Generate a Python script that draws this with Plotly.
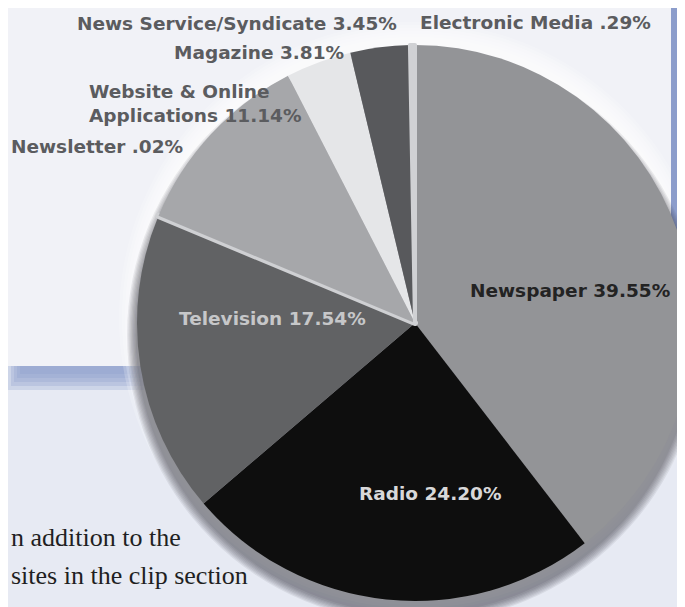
import plotly.graph_objects as go

W, H = 685, 607
OFF = 8  # the page's default body margin shifts the figure by this many pixels

# ---------------- data ----------------
categories = ["Newspaper", "Radio", "Television", "Newsletter",
              "Website & Online Applications", "Magazine",
              "News Service/Syndicate", "Electronic Media"]
shares = [39.55, 24.20, 17.54, 0.02, 11.14, 3.81, 3.45, 0.29]
share_text = ["39.55%", "24.20%", "17.54%", ".02%", "11.14%", "3.81%", "3.45%", ".29%"]

# ---------------- styles / layout ----------------
slice_colors = ["#939497", "#0e0e0e", "#616264", "#cfd0d3",
                "#a6a7aa", "#e5e6e8", "#58595c", "#d0d1d4"]
slice_line_w = [0, 0, 0, 6, 0, 0, 0, 4]

# label placement in window pixels: (text, x, y-centre, anchor, colour)
label_style = {
    "Newspaper": ("Newspaper", 468, 290, "left", "#232323"),
    "Radio": ("Radio", 357, 493, "left", "#d8d8d9"),
    "Television": ("Television", 177, 318, "left", "#c6c7c9"),
    "Newsletter": ("Newsletter", 185, 147, "right", "#5b5c5f"),
    "Website & Online Applications": ("Website & Online<br>Applications", 87, 104, "left", "#5b5c5f"),
    "Magazine": ("Magazine", 172, 53, "left", "#5b5c5f"),
    "News Service/Syndicate": ("News Service/Syndicate", 75, 23, "left", "#5b5c5f"),
    "Electronic Media": ("Electronic Media", 418, 22, "left", "#5b5c5f"),
}

body_lines = ["n addition to the", "sites in the clip section"]
body_y = [537, 575]


def px(x):
    """window x pixel -> paper fraction"""
    return (x - OFF) / W


def py(y):
    """window y pixel -> paper fraction"""
    return 1 - (y - OFF) / H


# pie geometry in window pixels (right edge limited by the figure's edge)
cx, cy = 415, 323
r = W + OFF - cx

fig = go.Figure()
fig.add_trace(go.Pie(
    labels=categories, values=shares, sort=False,
    direction="clockwise", rotation=0,
    marker=dict(colors=slice_colors, line=dict(color=slice_colors, width=slice_line_w)),
    textinfo="none", hoverinfo="label+percent", showlegend=False,
    domain=dict(x=[max(0.0, px(cx - r)), min(1.0, px(cx + r))],
                y=[max(0.0, py(cy + r)), min(1.0, py(cy - r))]),
))

PANEL_R = 671  # right edge of the light panel (window px)

shapes = []
# blue drop shadow of the upper panel
for k in range(5):
    shapes.append(dict(type="rect", xref="paper", yref="paper", layer="below",
                       x0=px(8 + 3 * k), x1=px(720), y0=py(390 - 4 * k), y1=py(-20),
                       fillcolor="#8b9dcb", opacity=0.28, line=dict(width=0)))
# upper panel
shapes.append(dict(type="rect", xref="paper", yref="paper", layer="below",
                   x0=px(-20), x1=px(PANEL_R), y0=py(366), y1=py(-20),
                   fillcolor="#f1f2f7", line=dict(width=0)))
# white glow around the upper part of the pie
for k in range(1, 7):
    R = r + 3 * k
    gx, gy = cx, cy - 5
    shapes.append(dict(type="circle", xref="paper", yref="paper", layer="below",
                       x0=px(gx - R), x1=px(gx + R), y0=py(gy + R), y1=py(gy - R),
                       fillcolor="#ffffff", opacity=0.2, line=dict(width=0)))
# right edge of the panel shadow (stays blue above the glow)
shapes.append(dict(type="rect", xref="paper", yref="paper", layer="below",
                   x0=px(PANEL_R), x1=px(720), y0=py(372), y1=py(-20),
                   fillcolor="#8c9dcb", line=dict(width=0)))
# soft dark shadow under the pie
for k in range(1, 9):
    R = r + 1.25 * k
    sx, sy = cx, cy + 12
    shapes.append(dict(type="circle", xref="paper", yref="paper", layer="below",
                       x0=px(sx - R), x1=px(sx + R), y0=py(sy + R), y1=py(sy - R),
                       fillcolor="#2a2c35", opacity=0.08, line=dict(width=0)))

annotations = []
for cat, txt in zip(categories, share_text):
    line_txt, x, y, anchor, col = label_style[cat]
    annotations.append(dict(text="<b>" + line_txt + " " + txt + "</b>", x=px(x), y=py(y),
                            xref="paper", yref="paper", xanchor=anchor, yanchor="middle",
                            align="left", showarrow=False,
                            font=dict(family="DejaVu Sans", size=18.5, color=col)))
for line_txt, y in zip(body_lines, body_y):
    annotations.append(dict(text=line_txt, x=px(OFF + 1), y=py(y), xref="paper", yref="paper",
                            xanchor="left", yanchor="middle", showarrow=False,
                            font=dict(family="Liberation Serif", size=26, color="#1f1f22")))

fig.update_layout(
    width=W, height=H, margin=dict(l=0, r=0, t=0, b=0),
    paper_bgcolor="#e7eaf3", plot_bgcolor="#e7eaf3",
    shapes=shapes, annotations=annotations, showlegend=False,
)

fig.write_html("out.html")
